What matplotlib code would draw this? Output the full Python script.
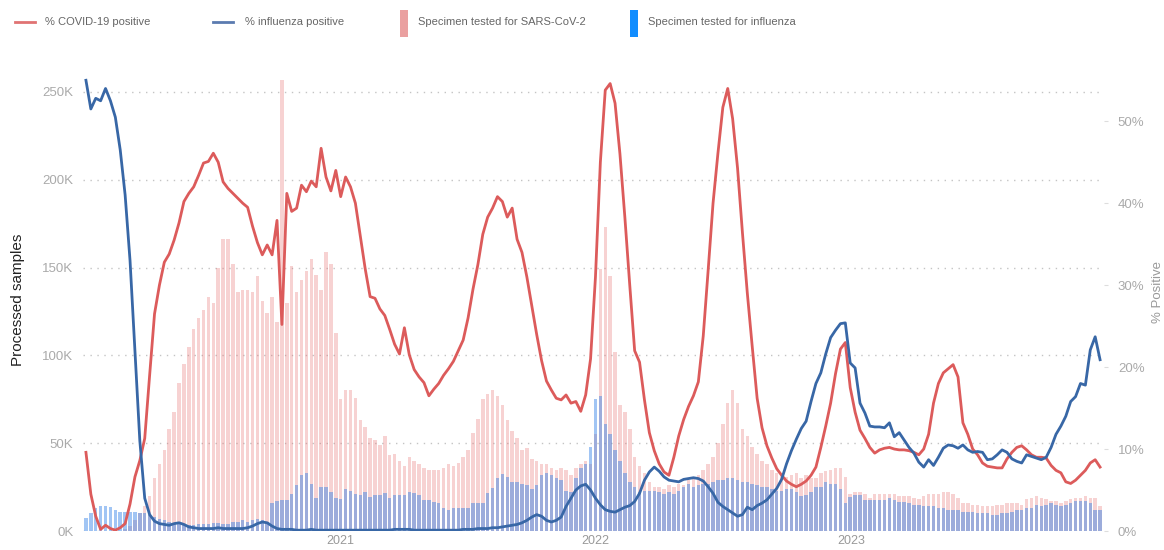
import matplotlib
matplotlib.use("Agg")
import matplotlib.pyplot as plt
import matplotlib.dates as mdates
from matplotlib.lines import Line2D
from matplotlib.patches import Rectangle
from matplotlib.ticker import FuncFormatter
import pandas as pd

plt.rcParams['font.family'] = ['Liberation Sans', 'DejaVu Sans']

# weekly series, Jan 2020 - Dec 2023
weeks = pd.date_range("2020-01-04", periods=208, freq="7D")

# % COVID-19 positive
covid_pct = [
    9.6, 4.5, 1.8, 0.2, 0.7, 0.3, 0.1, 0.4, 0.9, 3.3,
    6.6, 8.6, 11.3, 19.0, 26.5, 30.0, 32.8, 33.8, 35.5, 37.6,
    40.2, 41.2, 42.0, 43.4, 44.9, 45.1, 46.1, 45.0, 42.6, 41.8,
    41.2, 40.6, 40.0, 39.5, 37.2, 35.2, 33.7, 34.9, 33.7, 37.9,
    25.2, 41.2, 39.0, 39.4, 42.2, 41.4, 42.7, 42.0, 46.7, 43.2,
    41.5, 44.0, 40.8, 43.2, 42.0, 40.0, 36.0, 32.0, 28.6, 28.4,
    27.1, 26.3, 24.6, 22.8, 21.6, 24.8, 21.5, 19.7, 18.8, 18.1,
    16.5, 17.3, 18.0, 19.0, 19.8, 20.7, 22.0, 23.3, 26.0, 29.5,
    32.5, 36.2, 38.3, 39.4, 40.8, 40.2, 38.3, 39.4, 35.6, 34.0,
    31.0, 27.5, 24.0, 20.8, 18.3, 17.2, 16.2, 16.0, 16.6, 15.6,
    15.8, 14.6, 16.6, 21.0, 31.0, 45.0, 53.8, 54.6, 52.2, 46.0,
    38.3, 30.0, 22.0, 20.6, 16.0, 12.0, 9.8, 8.2, 7.2, 6.8,
    9.0, 11.6, 13.6, 15.2, 16.5, 18.2, 23.8, 31.8, 40.0, 46.1,
    51.7, 54.0, 50.3, 44.3, 36.4, 29.0, 22.5, 16.2, 12.6, 10.4,
    8.9, 7.6, 6.8, 6.1, 5.7, 5.4, 5.7, 6.1, 6.8, 7.8,
    10.2, 12.8, 15.6, 19.2, 22.2, 23.0, 17.5, 14.5, 12.3, 11.3,
    10.2, 9.5, 9.9, 10.1, 10.2, 10.0, 9.9, 9.9, 9.8, 9.6,
    9.3, 10.0, 11.8, 15.6, 18.0, 19.3, 19.8, 20.3, 18.8, 13.2,
    11.8, 10.0, 9.3, 8.3, 7.9, 7.8, 7.7, 7.7, 8.8, 9.6,
    10.2, 10.4, 9.9, 9.3, 9.0, 9.0, 8.9, 8.0, 7.4, 7.1,
    6.0, 5.8, 6.2, 6.8, 7.4, 8.3, 8.7, 7.8,
]

# % influenza positive
flu_pct = [
    55.0, 51.5, 52.8, 52.5, 54.0, 52.5, 50.5, 46.5, 41.0, 33.0,
    22.0, 11.0, 4.0, 2.0, 1.2, 0.9, 0.8, 0.7, 0.9, 1.0,
    0.8, 0.5, 0.4, 0.3, 0.3, 0.3, 0.3, 0.4, 0.3, 0.3,
    0.3, 0.3, 0.3, 0.4, 0.6, 0.9, 1.1, 1.0, 0.6, 0.3,
    0.2, 0.2, 0.2, 0.1, 0.1, 0.1, 0.2, 0.1, 0.1, 0.1,
    0.1, 0.1, 0.1, 0.1, 0.1, 0.1, 0.1, 0.1, 0.1, 0.1,
    0.1, 0.1, 0.1, 0.2, 0.2, 0.2, 0.2, 0.1, 0.1, 0.1,
    0.1, 0.1, 0.1, 0.1, 0.1, 0.1, 0.1, 0.2, 0.2, 0.2,
    0.3, 0.3, 0.3, 0.4, 0.4, 0.5, 0.6, 0.7, 0.8, 1.0,
    1.3, 1.7, 2.0, 1.8, 1.3, 1.1, 1.3, 1.7, 3.0, 4.0,
    5.0, 5.5, 5.7, 5.0, 4.0, 3.2, 2.6, 2.4, 2.3, 2.6,
    2.9, 3.1, 3.6, 4.6, 6.2, 7.2, 7.8, 7.3, 6.6, 6.2,
    6.1, 6.0, 6.3, 6.4, 6.5, 6.4, 6.1, 5.4, 4.6, 3.5,
    3.0, 2.6, 2.2, 1.8, 2.0, 2.9, 2.6, 3.1, 3.4, 3.8,
    4.5, 5.2, 6.3, 8.2, 9.8, 11.2, 12.5, 13.4, 15.8, 18.0,
    19.3, 21.6, 23.6, 24.5, 25.3, 25.4, 20.5, 19.9, 15.6, 14.4,
    12.8, 12.7, 12.7, 12.6, 13.2, 11.5, 12.0, 11.1, 10.2, 9.5,
    8.4, 7.8, 8.7, 8.0, 9.0, 10.1, 10.5, 10.4, 10.1, 10.5,
    9.9, 9.6, 9.7, 9.6, 8.7, 8.8, 9.3, 9.9, 9.6, 8.8,
    8.5, 8.3, 9.3, 9.1, 8.9, 8.7, 9.0, 10.2, 11.8, 12.8,
    14.0, 15.8, 16.4, 18.0, 17.8, 22.1, 23.7, 20.9,
]

# specimens tested for SARS-CoV-2 (thousands)
covid_tests_k = [
    0, 0, 0, 0, 0, 0, 0, 0, 1, 3,
    6, 10, 14, 20, 30, 38, 46, 58, 68, 84,
    95, 105, 115, 121, 126, 133, 130, 150, 166, 166,
    152, 136, 137, 137, 136, 145, 131, 124, 133, 119,
    257, 130, 151, 136, 143, 148, 155, 146, 137, 159,
    152, 113, 75, 80, 80, 76, 63, 59, 53, 52,
    49, 54, 43, 44, 40, 37, 42, 40, 38, 36,
    35, 35, 35, 36, 38, 37, 39, 42, 46, 56,
    64, 75, 78, 80, 77, 72, 63, 57, 53, 46,
    47, 41, 40, 38, 38, 36, 35, 36, 35, 32,
    36, 38, 40, 38, 55, 149, 173, 145, 102, 72,
    68, 58, 42, 37, 33, 28, 25, 25, 24, 26,
    25, 27, 26, 29, 31, 32, 35, 38, 42, 50,
    61, 73, 80, 73, 58, 54, 48, 44, 40, 38,
    35, 33, 32, 31, 32, 33, 30, 32, 30, 30,
    33, 34, 35, 36, 36, 31, 21, 22, 22, 21,
    19, 21, 21, 21, 21, 21, 20, 20, 20, 19,
    18, 20, 21, 21, 21, 22, 22, 21, 19, 16,
    16, 15, 15, 14, 14, 14, 15, 15, 16, 16,
    16, 15, 18, 19, 20, 19, 18, 17, 17, 16,
    17, 18, 19, 19, 20, 19, 19, 14,
]

# specimens tested for influenza (thousands)
flu_tests_k = [
    7.4, 10, 13, 14, 14, 13.5, 12, 11, 11, 11,
    11, 10.5, 10, 9, 8, 7, 6, 5, 4, 4,
    3.5, 3.5, 3.5, 4, 4, 4, 4.5, 4.5, 4, 4,
    5, 5, 6, 5, 6, 7, 6, 5, 16, 17,
    17.6, 17.6, 21, 26, 32, 33, 27, 19, 25, 25,
    22, 19, 18, 24, 23, 21, 20.5, 22, 19.5, 20.5,
    20.5, 21.4, 18.6, 20.5, 20.5, 20.5, 22.4, 21.4, 20.5, 17.6,
    17.6, 16.7, 15.8, 12.9, 12.0, 12.9, 12.9, 12.9, 12.9, 15.8,
    15.8, 15.8, 21.4, 24.2, 29.9, 32.7, 30.8, 28, 28, 27,
    26, 24, 26, 32, 33, 32, 30, 29, 23, 22,
    30, 36, 38, 48, 75, 77, 61, 55, 46, 40,
    33, 28, 25, 22, 23, 23, 23, 22, 21, 22,
    21, 23, 25, 27, 25, 26, 27, 27, 28, 29,
    29, 30, 30, 29, 28, 28, 27, 26, 25, 25,
    24, 23, 23, 24, 24, 22, 20, 20.5, 22.3, 25,
    25, 28, 27, 27, 24, 16, 19.5, 20.5, 20.5, 17.6,
    17.6, 17.6, 17.6, 17.6, 18.6, 17.6, 16.7, 16.7, 15.8, 14.9,
    14.9, 14, 14, 14, 13, 13, 12, 12, 12, 11,
    11, 11, 10, 10, 10, 9, 9, 10, 10, 11,
    12, 12, 13, 13, 15, 14, 15, 16, 15, 14,
    15, 16, 17, 17, 17, 16, 12, 12,
]

RED = '#dc5b5b'
BLUE = '#3867a6'
PINK_BAR = '#e66c6c'
BLUE_BAR = '#2f7fe8'

W, H = 1164, 550
fig = plt.figure(figsize=(W / 100, H / 100), dpi=100)
ax = fig.add_axes([83 / W, 1 - 531 / H, (1104 - 83) / W, (531 - 77) / H])

covid_tests = [v * 1000 for v in covid_tests_k]
flu_tests = [v * 1000 for v in flu_tests_k]
ax.bar(weeks, covid_tests, width=5.0, color=PINK_BAR, alpha=0.3, linewidth=0, zorder=2)
ax.bar(weeks, flu_tests, width=5.0, color=BLUE_BAR, alpha=0.45, linewidth=0, zorder=3)

start = weeks[0]
ax.set_xlim(start - pd.Timedelta(days=0.6 * 7), start + pd.Timedelta(days=207.8 * 7))
ax.set_ylim(0, 258500)
ax.set_yticks([0, 50000, 100000, 150000, 200000, 250000])
ax.yaxis.set_major_formatter(FuncFormatter(lambda v, p: f'{v / 1000:.0f}K'))
ax.grid(axis='y', linestyle=(0, (1, 4)), color='#c4c4c4', linewidth=1)
ax.set_axisbelow(True)

ax.set_xticks([pd.Timestamp('2021-01-01'), pd.Timestamp('2022-01-01'), pd.Timestamp('2023-01-01')])
ax.xaxis.set_major_formatter(mdates.DateFormatter('%Y'))
ax.tick_params(axis='x', length=0, pad=3, labelsize=9, labelcolor='#999999')
ax.tick_params(axis='y', length=0, pad=7, labelsize=9.5, labelcolor='#aaaaaa')
for s in ax.spines.values():
    s.set_visible(False)

ax2 = ax.twinx()
ax2.plot(weeks, covid_pct, color=RED, linewidth=2.0, solid_joinstyle='round', zorder=4)
ax2.plot(weeks, flu_pct, color=BLUE, linewidth=2.0, solid_joinstyle='round', zorder=5)
ax2.set_ylim(0, 55.4)
ax2.set_yticks([0, 10, 20, 30, 40, 50])
ax2.yaxis.set_major_formatter(FuncFormatter(lambda v, p: f'{v:.0f}%'))
ax2.tick_params(axis='y', length=3, width=0.8, color='#dddddd', pad=7,
                labelsize=9.5, labelcolor='#aaaaaa')
for s in ax2.spines.values():
    s.set_visible(False)

fig.text(18 / W, 1 - 300 / H, 'Processed samples', rotation=90, ha='center', va='center',
         fontsize=11, color='#222222')
fig.text(1158 / W, 1 - 292 / H, '% Positive', rotation=90, ha='center', va='center',
         fontsize=9.5, color='#999999')

# legend along the top
ly = 1 - 22 / H
fig.add_artist(Line2D([15 / W, 35 / W], [ly, ly], transform=fig.transFigure, color='#e07373', lw=2))
fig.text(45 / W, ly, '% COVID-19 positive', fontsize=8, color='#666666', va='center')
fig.add_artist(Line2D([213 / W, 233 / W], [ly, ly], transform=fig.transFigure, color='#5b7bb0', lw=2))
fig.text(245 / W, ly, '% influenza positive', fontsize=8, color='#666666', va='center')
fig.add_artist(Rectangle((400 / W, 1 - 37 / H), 8 / W, 27 / H, transform=fig.transFigure,
                         color='#eaa0a0', lw=0))
fig.text(418 / W, ly, 'Specimen tested for SARS-CoV-2', fontsize=8, color='#666666', va='center')
fig.add_artist(Rectangle((630 / W, 1 - 37 / H), 8 / W, 27 / H, transform=fig.transFigure,
                         color='#118dff', lw=0))
fig.text(648 / W, ly, 'Specimen tested for influenza', fontsize=8, color='#666666', va='center')

fig.savefig('out.png', dpi=100)
